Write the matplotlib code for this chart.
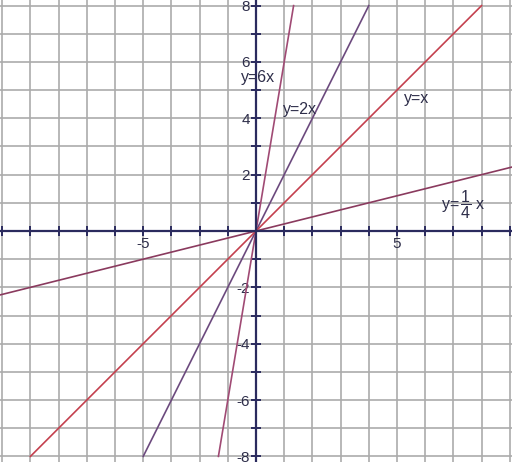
import matplotlib

matplotlib.use("Agg")
import matplotlib.pyplot as plt
import numpy as np

plt.rcParams["font.family"] = ["Liberation Sans", "DejaVu Sans"]
plt.rcParams["axes.unicode_minus"] = False
plt.rcParams["mathtext.fontset"] = "custom"
plt.rcParams["mathtext.rm"] = "Liberation Sans"
plt.rcParams["mathtext.it"] = "Liberation Sans"

# lines y = k x
slopes = [6, 2, 1, 0.25]
names = ["y=6x", "y=2x", "y=x", r"y=$\,\dfrac{1}{4}\;$x"]
colors = ["#a04a74", "#6c4a7e", "#c4404e", "#8a3a5e"]
label_pos = [(-0.55, 5.45), (0.95, 4.3), (5.25, 4.7), (6.55, 0.95)]

xticks = list(range(-9, 10))
yticks = list(range(-8, 9))
# the original figure prints "-5" under the x=-4 grid line
xlabels = {-4: "-5", 5: "5"}
ylabels = {-8: "-8", -6: "-6", -4: "-4", -2: "-2", 2: "2", 4: "4", 6: "6", 8: "8"}

XMAX, YMAX = 9.08, 8.2
axis_col = "#2b2b5e"
text_col = "#2e2e4a"

fig = plt.figure(figsize=(5.12, 4.62), dpi=100)
ax = fig.add_axes([0, 0, 1, 1])
ax.set_xlim(-XMAX, XMAX)
ax.set_ylim(-YMAX, YMAX)

for v in xticks:
    ax.axvline(v, color="#ababab", lw=1.2, zorder=1)
for v in yticks:
    ax.axhline(v, color="#ababab", lw=1.2, zorder=1)

for sp in ["top", "right"]:
    ax.spines[sp].set_visible(False)
ax.spines["left"].set_position("zero")
ax.spines["bottom"].set_position("zero")
for sp in ["left", "bottom"]:
    ax.spines[sp].set_color(axis_col)
    ax.spines[sp].set_linewidth(1.6)
    ax.spines[sp].set_zorder(3)

ax.set_xticks(xticks)
ax.set_xticklabels([xlabels.get(v, "") for v in xticks])
ax.set_yticks(yticks)
ax.set_yticklabels([ylabels.get(v, "") for v in yticks])
ax.tick_params(direction="inout", length=7, width=1.4, color=axis_col,
               labelsize=11, labelcolor=text_col, pad=1)

for k, name, c, (tx, ty) in zip(slopes, names, colors, label_pos):
    xe = min(XMAX + 0.1, 8 / k)
    xs = np.array([-xe, xe])
    ax.plot(xs, k * xs, color=c, lw=1.2, zorder=2, clip_on=True)
    ax.text(tx, ty, name, fontsize=11.5, color=text_col, va="center", ha="left", zorder=4)

fig.savefig("out.png", dpi=100)
